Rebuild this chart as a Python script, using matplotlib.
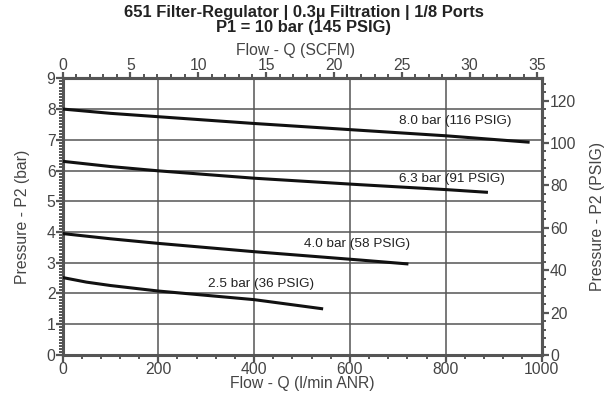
import matplotlib
matplotlib.use('Agg')
import matplotlib.pyplot as plt
from matplotlib.ticker import MultipleLocator, FixedLocator

plt.rcParams['font.family'] = ['Liberation Sans', 'DejaVu Sans']

# flow in l/min ANR, pressure in bar
flow_80 = [0, 100, 200, 400, 620, 800, 975]
p2_80 = [8.0, 7.86, 7.75, 7.53, 7.31, 7.13, 6.92]
flow_63 = [0, 100, 200, 400, 620, 800, 888]
p2_63 = [6.30, 6.13, 5.99, 5.75, 5.54, 5.38, 5.29]
flow_40 = [0, 100, 200, 400, 620, 722]
p2_40 = [3.95, 3.78, 3.63, 3.36, 3.09, 2.96]
flow_25 = [0, 50, 100, 200, 300, 400, 544]
p2_25 = [2.52, 2.37, 2.26, 2.08, 1.94, 1.80, 1.50]

labels = ['8.0 bar (116 PSIG)', '6.3 bar (91 PSIG)', '4.0 bar (58 PSIG)', '2.5 bar (36 PSIG)']
label_x = [703, 703, 505, 304]
label_y = [7.61, 5.72, 3.61, 2.30]

scfm_ticks = [0, 5, 10, 15, 20, 25, 30, 35]
psig_ticks = [0, 20, 40, 60, 80, 100, 120]

LPM_PER_SCFM = 28.317
PSI_PER_BAR = 14.5

axis_col = '#555555'
text_col = '#444444'
fs = 11.3

fig = plt.figure(figsize=(6.08, 3.95), dpi=100)
ax = fig.add_axes([0.1028, 0.1013, 0.788, 0.7005])

for fl, p in [(flow_80, p2_80), (flow_63, p2_63), (flow_40, p2_40), (flow_25, p2_25)]:
    ax.plot(fl, p, color='#111111', lw=2.2, solid_capstyle='butt', zorder=3)

for t, x, y in zip(labels, label_x, label_y):
    ax.text(x, y, t, fontsize=9.7, color='#222222', va='center', ha='left', zorder=4)

ax.set_xlim(0, 1000)
ax.set_ylim(0, 9)
ax.xaxis.set_major_locator(MultipleLocator(200))
ax.xaxis.set_minor_locator(MultipleLocator(40))
ax.yaxis.set_major_locator(MultipleLocator(1))
ax.yaxis.set_minor_locator(MultipleLocator(0.1))
ax.grid(True, which='major', color=axis_col, lw=1.1)
ax.set_axisbelow(True)

for s in ax.spines.values():
    s.set_color(axis_col)
    s.set_linewidth(2.2)

ax.tick_params(which='major', length=5, width=1.6, color=axis_col, labelcolor=text_col, labelsize=fs, pad=0)
ax.tick_params(which='minor', length=3, width=1.4, color=axis_col)

ax.set_xlabel('Flow - Q (l/min ANR)', fontsize=fs, color=text_col, labelpad=-1)
ax.set_ylabel('Pressure - P2 (bar)', fontsize=fs, color=text_col, labelpad=12)

top = ax.secondary_xaxis('top', functions=(lambda x: x / LPM_PER_SCFM, lambda s: s * LPM_PER_SCFM))
top.xaxis.set_major_locator(FixedLocator(scfm_ticks))
top.xaxis.set_minor_locator(FixedLocator(list(range(0, 36))))
top.tick_params(which='major', length=4, width=1.6, color=axis_col, labelcolor=text_col, labelsize=fs, pad=0)
top.tick_params(which='minor', length=3, width=1.4, color=axis_col)
top.spines['top'].set_color(axis_col)
top.spines['top'].set_linewidth(2.2)

right = ax.secondary_yaxis('right', functions=(lambda b: b * PSI_PER_BAR, lambda p: p / PSI_PER_BAR))
right.yaxis.set_major_locator(FixedLocator(psig_ticks))
right.yaxis.set_minor_locator(FixedLocator(list(range(0, 131, 4))))
right.tick_params(which='major', length=5, width=1.6, color=axis_col, labelcolor=text_col, labelsize=fs, pad=1)
right.tick_params(which='minor', length=3, width=1.4, color=axis_col)
right.set_ylabel('Pressure - P2 (PSIG)', fontsize=fs, color=text_col, labelpad=10)
right.spines['right'].set_color(axis_col)
right.spines['right'].set_linewidth(2.2)

# top axis title placed by hand so it sits above the SCFM tick labels
fig.text(0.4868, 0.873, 'Flow - Q (SCFM)', ha='center', va='center', fontsize=fs, color=text_col)

fig.text(0.5, 0.969, '651 Filter-Regulator | 0.3\u00b5 Filtration | 1/8 Ports', ha='center', va='center',
         fontsize=11.9, fontweight='bold', color='#222222')
fig.text(0.5, 0.930, 'P1 = 10 bar (145 PSIG)', ha='center', va='center',
         fontsize=11.9, fontweight='bold', color='#222222')

fig.savefig('out.png', dpi=100)
